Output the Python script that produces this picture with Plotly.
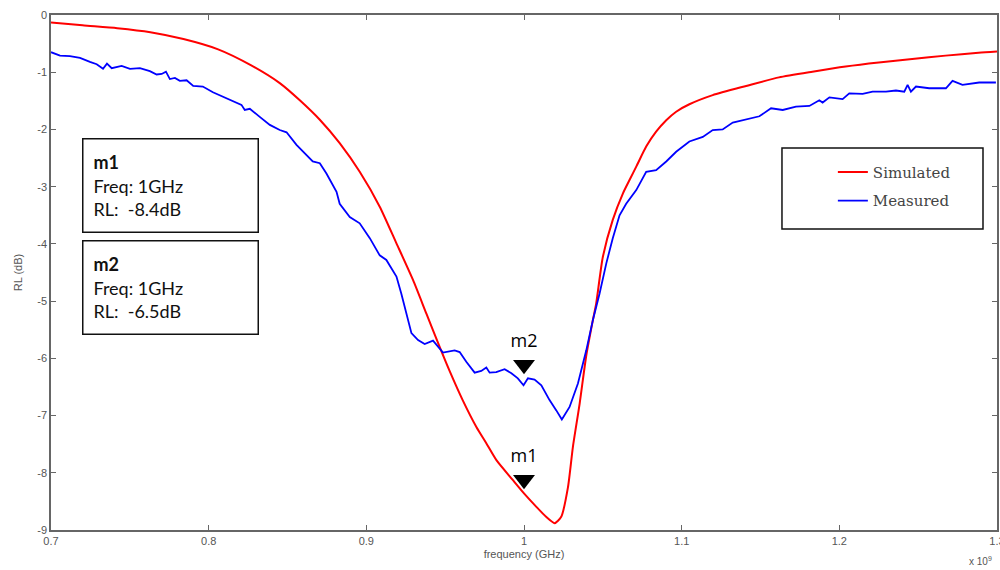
import plotly.graph_objects as go

# ---------------- data ----------------
sim_freq = [0.700, 0.720, 0.742, 0.763, 0.784, 0.806, 0.827, 0.8451, 0.8578, 0.8705,
            0.8831, 0.8958, 0.9085, 0.9191, 0.9296, 0.9381, 0.9465, 0.9528, 0.9611, 0.9698,
            0.9760, 0.9825, 0.993, 1.000, 1.008, 1.014, 1.0194, 1.0236, 1.0279, 1.031,
            1.0353, 1.0395, 1.0437, 1.0458, 1.0500, 1.0563, 1.0627, 1.0670, 1.0712, 1.0775,
            1.0838, 1.0902, 1.0965, 1.1049, 1.1197, 1.1409, 1.1617, 1.1829, 1.2040, 1.2250,
            1.2462, 1.2674, 1.2883, 1.300]
sim_rl = [-0.13, -0.18, -0.23, -0.30, -0.42, -0.60, -0.88, -1.19, -1.49, -1.83,
          -2.24, -2.74, -3.35, -3.99, -4.63, -5.22, -5.80, -6.22, -6.73, -7.20,
          -7.48, -7.78, -8.13, -8.36, -8.60, -8.77, -8.88, -8.77, -8.25, -7.55,
          -6.79, -5.95, -5.33, -5.04, -4.23, -3.58, -3.12, -2.88, -2.65, -2.30,
          -2.04, -1.84, -1.69, -1.56, -1.40, -1.24, -1.09, -0.99, -0.90, -0.83,
          -0.77, -0.71, -0.66, -0.64]

meas_freq = [0.7000, 0.7057, 0.7120, 0.7184, 0.7247, 0.7290, 0.7330, 0.7355, 0.7385, 0.7448,
             0.7501, 0.7564, 0.7627, 0.7670, 0.7702, 0.7729, 0.7754, 0.7786, 0.7817, 0.7860,
             0.7902, 0.7963, 0.8027, 0.8090, 0.8153, 0.8208, 0.8229, 0.8261, 0.8324, 0.8388,
             0.8451, 0.8494, 0.8557, 0.8620, 0.8660, 0.8705, 0.8747, 0.8811, 0.8831, 0.8895,
             0.8958, 0.9022, 0.9085, 0.9127, 0.9191, 0.9222, 0.9254, 0.9286, 0.9328, 0.9370,
             0.9423, 0.9486, 0.9560, 0.9592, 0.9634, 0.9687, 0.9729, 0.9761, 0.9782, 0.9824,
             0.9877, 0.9920, 0.9961, 0.9997, 1.0025, 1.0067, 1.0110, 1.0162, 1.0205, 1.0240,
             1.0289, 1.0342, 1.0395, 1.0437, 1.0479, 1.0522, 1.0563, 1.0606, 1.0648, 1.0712,
             1.0775, 1.0838, 1.0902, 1.0965, 1.1049, 1.1134, 1.1197, 1.1260, 1.1324, 1.1409,
             1.1493, 1.1567, 1.1641, 1.1725, 1.1810, 1.1873, 1.1894, 1.1937, 1.2021, 1.2063,
             1.2148, 1.2211, 1.2296, 1.2359, 1.2412, 1.2433, 1.2454, 1.2486, 1.2570, 1.2676,
             1.2718, 1.2781, 1.2887, 1.2993]
meas_rl = [-0.65, -0.71, -0.72, -0.75, -0.82, -0.86, -0.94, -0.85, -0.93, -0.89,
           -0.94, -0.93, -0.98, -1.04, -1.03, -0.99, -1.12, -1.10, -1.15, -1.14,
           -1.24, -1.25, -1.35, -1.43, -1.50, -1.57, -1.66, -1.64, -1.78, -1.92,
           -2.01, -2.05, -2.27, -2.45, -2.56, -2.59, -2.77, -3.09, -3.30, -3.53,
           -3.64, -3.90, -4.20, -4.28, -4.57, -4.87, -5.22, -5.56, -5.68, -5.75,
           -5.69, -5.90, -5.86, -5.89, -6.06, -6.25, -6.22, -6.16, -6.25, -6.24,
           -6.19, -6.26, -6.35, -6.47, -6.35, -6.37, -6.47, -6.73, -6.91, -7.07,
           -6.85, -6.44, -5.86, -5.33, -4.87, -4.34, -3.90, -3.50, -3.30, -3.06,
           -2.74, -2.71, -2.56, -2.39, -2.21, -2.13, -2.01, -2.00, -1.88, -1.82,
           -1.77, -1.63, -1.66, -1.60, -1.59, -1.49, -1.53, -1.44, -1.47, -1.37,
           -1.38, -1.34, -1.34, -1.32, -1.34, -1.22, -1.34, -1.25, -1.28, -1.28,
           -1.15, -1.22, -1.18, -1.18]

marker_names = ["m1", "m2"]
marker_freq = [1.0, 1.0]
marker_rl = [-8.12, -6.11]          # drawn marker glyph positions
marker_freq_text = ["1GHz", "1GHz"]
marker_rl_text = ["-8.4dB", "-6.5dB"]

x_tick_vals = [0.7, 0.8, 0.9, 1.0, 1.1, 1.2, 1.3]
x_tick_text = ["0.7", "0.8", "0.9", "1", "1.1", "1.2", "1.3"]
y_tick_vals = [0, -1, -2, -3, -4, -5, -6, -7, -8, -9]
y_tick_text = ["0", "-1", "-2", "-3", "-4", "-5", "-6", "-7", "-8", "-9"]

# ---------------- figure ----------------
fig = go.Figure()
fig.add_trace(go.Scatter(x=sim_freq, y=sim_rl, mode="lines", name="Simulated",
                         legendgroup="a",
                         line=dict(color="#ff0000", width=2, shape="spline", smoothing=0.6)))
fig.add_trace(go.Scatter(x=meas_freq, y=meas_rl, mode="lines", name="Measured",
                         legendgroup="b",
                         line=dict(color="#0000ff", width=1.8)))
fig.add_trace(go.Scatter(x=marker_freq, y=marker_rl, mode="markers+text",
                         text=marker_names, textposition="top center",
                         textfont=dict(family="Open Sans", size=18, color="#000"),
                         marker=dict(symbol="triangle-down", size=19, color="#000"),
                         showlegend=False, hoverinfo="skip"))

axis_font = dict(family="Liberation Sans, Arial", size=11, color="#555")
title_font = dict(family="Liberation Sans, Arial", size=11, color="#555")

fig.update_xaxes(range=[0.7, 1.3], tickvals=x_tick_vals, ticktext=x_tick_text,
                 ticks="inside", ticklen=5, tickcolor="#666", tickwidth=1.2,
                 showline=True, linecolor="#666", linewidth=1.5, mirror="ticks",
                 showgrid=False, zeroline=False, tickfont=axis_font,
                 ticklabeloverflow="allow", automargin=False,
                 title=dict(text="frequency (GHz)", font=title_font, standoff=4))
fig.update_yaxes(range=[-9, 0], tickvals=y_tick_vals, ticktext=y_tick_text,
                 ticks="inside", ticklen=5, tickcolor="#666", tickwidth=1.2,
                 showline=True, linecolor="#666", linewidth=1.5, mirror="ticks",
                 showgrid=False, zeroline=False, tickfont=axis_font,
                 ticklabeloverflow="allow", automargin=False,
                 title=dict(text="RL (dB)", font=title_font, standoff=12))

annotations = []
box_tops = [0.761, 0.563]
for name, ft, rt, top in zip(marker_names, marker_freq_text, marker_rl_text, box_tops):
    annotations.append(dict(
        xref="paper", yref="paper", x=0.033, y=top, xanchor="left", yanchor="top",
        text=f"<b>{name}</b><br>Freq: {ft}<br>RL:&nbsp; {rt}",
        showarrow=False, align="left", valign="middle",
        width=154, height=72, borderpad=10,
        bordercolor="#111", borderwidth=1.5, bgcolor="white",
        font=dict(family="Lato, Open Sans", size=18, color="#111")))
annotations.append(dict(xref="paper", yref="paper", x=0.997, y=-0.0757, xanchor="right", yanchor="bottom",
                        text="x 10<sup>9</sup>", showarrow=False,
                        font=dict(family="Liberation Sans, Arial", size=10, color="#555")))

fig.update_layout(
    width=1000, height=570,
    margin=dict(l=51, r=3, t=15, b=40),
    paper_bgcolor="white", plot_bgcolor="white",
    showlegend=True,
    legend=dict(x=0.8265, y=0.7265, xanchor="left", yanchor="top",
                bgcolor="rgba(0,0,0,0)", borderwidth=0,
                font=dict(family="DejaVu Serif", size=15, color="#444"),
                tracegroupgap=6, traceorder="grouped"),
    shapes=[dict(type="rect", xref="paper", yref="paper",
                 x0=0.7727, x1=0.9852, y0=0.5845, y1=0.7417,
                 line=dict(color="#111", width=1.5), fillcolor="white", layer="below")],
    annotations=annotations,
)

fig.write_html("out.html", config={"displayModeBar": False},
               post_script="document.body.style.margin='0';document.body.style.overflow='hidden';")
